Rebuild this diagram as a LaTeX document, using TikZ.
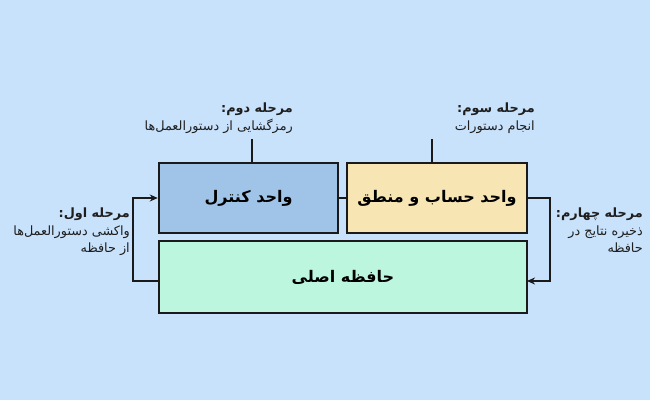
\documentclass[tikz,border=0pt]{standalone}
\usepackage{fontspec}
\TeXXeTstate=1
\newfontfamily\fa[Script=Arabic]{DejaVu Sans}
\usetikzlibrary{arrows.meta}
\definecolor{bgc}{HTML}{C9E2FC}
\definecolor{ctrlc}{HTML}{A0C4E8}
\definecolor{aluc}{HTML}{F7E6B4}
\definecolor{memc}{HTML}{BDF6DE}
\definecolor{linec}{HTML}{1A1A1A}
\definecolor{txtc}{HTML}{1E1E1E}
\begin{document}
\begin{tikzpicture}[x=1pt,y=-1pt,
  unit/.style={draw=linec, line width=2.5pt, inner sep=0pt, text=black,
    font=\fa\bfseries\fontsize{16}{18}\selectfont},
  stage/.style={align=right, anchor=north east, inner sep=0pt, text=txtc,
    font=\fa\fontsize{12.8}{17.5}\selectfont},
  conn/.style={draw=linec, line width=2.2pt},
  arr/.style={conn, -{Stealth[length=8pt,width=7pt]}}]
\fill[bgc] (0,0) rectangle (650,400);
\useasboundingbox (0,0) rectangle (650,400);

\node[unit, fill=ctrlc, minimum width=179pt, minimum height=70pt] (ctrl) at (248.5,198) {\beginR واحد کنترل\endR};
\node[unit, fill=aluc, minimum width=180pt, minimum height=70pt] (alu) at (437,198) {\beginR واحد حساب و منطق\endR};
\node[unit, fill=memc, minimum width=368pt, minimum height=72pt] (mem) at (343,277) {\beginR حافظه اصلی\endR};

\node[stage] (s2) at (293,103) {\textbf{\beginR مرحله دوم:\endR}\\\beginR رمزگشایی از دستورالعمل‌ها\endR};
\node[stage] (s3) at (535,103) {\textbf{\beginR مرحله سوم:\endR}\\\beginR انجام دستورات\endR};
\node[stage] (s1) at (130,208) {\textbf{\beginR مرحله اول:\endR}\\\beginR واکشی دستورالعمل‌ها\endR\\\beginR از حافظه\endR};
\node[stage] (s4) at (643,208) {\textbf{\beginR مرحله چهارم:\endR}\\\beginR ذخیره نتایج در\endR\\\beginR حافظه\endR};

\coordinate (t2) at (252,139);
\coordinate (t3) at (432,139);
\coordinate (lm) at (159,281);
\coordinate (rm) at (527,281);
\draw[conn] (t2) -- (t2 |- ctrl.north);
\draw[conn] (t3) -- (t3 |- alu.north);
\draw[conn] (ctrl.east) -- (alu.west);
\draw[arr] (lm) -- ++(-26,0) |- (ctrl.west);
\draw[arr] (alu.east) -- ++(22,0) |- (rm);
\end{tikzpicture}
\end{document}
